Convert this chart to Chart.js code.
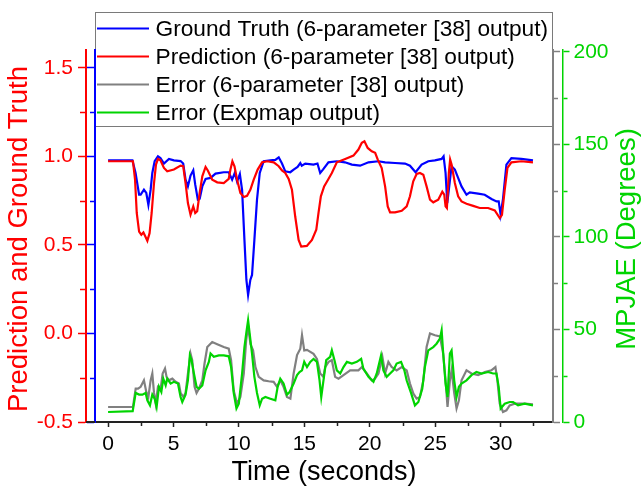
<!DOCTYPE html>
<html>
<head>
<meta charset="utf-8">
<script src="https://cdn.jsdelivr.net/npm/chart.js@4.4.1/dist/chart.umd.min.js"></script>
<style>
  html, body { margin: 0; padding: 0; background: #ffffff; }
  #wrap { position: relative; width: 641px; height: 487px; }
</style>
</head>
<body>
<div id="wrap"><canvas id="c" width="641" height="487"></canvas></div>
<script>
// ---------------- data ----------------
const seriesLabels = [
  'Ground Truth (6-parameter [38] output)',
  'Prediction (6-parameter [38] output)',
  'Error (6-parameter [38] output)',
  'Error (Expmap output)'
];
const axisTitles = { x: 'Time (seconds)', left: 'Prediction and Ground Truth', right: 'MPJAE (Degrees)' };

// [time (s), value] – left axis
const groundTruth = [[0,0.977],[1.86,0.977],[2.1,0.906],[2.37,0.783],[2.49,0.783],[2.74,0.811],[2.92,0.793],[3.08,0.726],[3.25,0.81],[3.38,0.906],[3.56,0.972],[3.81,1.0],[4.0,0.99],[4.27,0.959],[4.65,0.985],[5.03,0.977],[5.54,0.973],[5.74,0.959],[5.92,0.868],[6.1,0.83],[6.3,0.891],[6.51,0.921],[6.66,0.84],[6.86,0.755],[7.0,0.76],[7.2,0.83],[7.45,0.872],[7.83,0.878],[8.21,0.902],[8.84,0.91],[9.22,0.91],[9.48,0.868],[9.68,0.906],[9.86,0.857],[10.07,0.9],[10.24,0.811],[10.42,0.528],[10.57,0.302],[10.7,0.217],[10.87,0.302],[11.0,0.33],[11.18,0.528],[11.38,0.755],[11.59,0.906],[11.89,0.972],[12.4,0.977],[12.78,0.98],[13.04,0.994],[13.29,0.959],[13.54,0.915],[13.92,0.91],[14.18,0.925],[14.48,0.94],[14.69,0.962],[14.8,0.947],[15.07,0.959],[15.7,0.953],[16.0,0.959],[16.21,0.906],[16.42,0.925],[16.84,0.966],[17.48,0.972],[18.1,0.966],[18.63,0.953],[19.26,0.947],[19.9,0.966],[20.66,0.972],[21.17,0.966],[21.93,0.962],[22.69,0.959],[23.07,0.947],[23.5,0.91],[23.96,0.953],[24.47,0.972],[24.97,0.977],[25.49,0.985],[25.64,1.0],[25.79,0.906],[25.92,0.736],[26.07,0.83],[26.25,0.944],[26.5,0.925],[26.75,0.878],[27.01,0.83],[27.39,0.783],[27.64,0.796],[28.28,0.789],[28.78,0.783],[29.3,0.759],[29.68,0.745],[29.85,0.745],[30.0,0.67],[30.18,0.76],[30.44,0.953],[30.82,0.99],[31.58,0.985],[32.47,0.977]];

const prediction = [[0,0.972],[1.9,0.972],[2.06,0.868],[2.19,0.68],[2.37,0.575],[2.54,0.557],[2.7,0.57],[2.83,0.55],[3.0,0.523],[3.17,0.566],[3.33,0.68],[3.51,0.849],[3.66,0.953],[3.81,0.985],[4.0,0.977],[4.27,0.934],[4.52,0.915],[5.03,0.925],[5.54,0.947],[5.74,0.944],[5.92,0.849],[6.1,0.736],[6.3,0.67],[6.51,0.717],[6.66,0.68],[6.81,0.69],[7.0,0.793],[7.2,0.887],[7.45,0.94],[7.62,0.92],[7.96,0.868],[8.34,0.853],[8.84,0.849],[9.22,0.872],[9.35,0.925],[9.5,0.972],[9.66,0.944],[9.86,0.868],[10.11,0.793],[10.37,0.77],[10.62,0.777],[10.87,0.811],[11.13,0.868],[11.43,0.925],[11.77,0.966],[12.15,0.972],[12.66,0.966],[13.04,0.944],[13.29,0.92],[13.54,0.906],[13.8,0.872],[14.05,0.811],[14.3,0.66],[14.56,0.528],[14.76,0.49],[15.19,0.494],[15.58,0.528],[15.91,0.585],[16.08,0.68],[16.26,0.774],[16.51,0.83],[16.84,0.872],[17.1,0.906],[17.48,0.966],[18.12,0.985],[18.75,1.004],[19.13,1.038],[19.39,1.076],[19.59,1.085],[19.84,1.047],[20.15,1.028],[20.41,1.02],[20.61,0.981],[20.91,0.934],[21.17,0.83],[21.37,0.717],[21.55,0.683],[21.93,0.683],[22.44,0.692],[22.82,0.717],[23.07,0.774],[23.32,0.859],[23.58,0.9],[23.83,0.906],[24.09,0.896],[24.34,0.83],[24.6,0.755],[24.85,0.74],[25.23,0.755],[25.54,0.8],[25.69,0.783],[25.79,0.717],[25.89,0.708],[26.04,0.906],[26.14,0.981],[26.25,0.953],[26.5,0.849],[26.75,0.774],[27.01,0.745],[27.39,0.732],[27.9,0.72],[28.4,0.708],[29.04,0.708],[29.55,0.694],[29.93,0.651],[30.1,0.67],[30.31,0.811],[30.52,0.934],[30.82,0.966],[31.58,0.972],[32.47,0.966]];

// [time (s), degrees] – right axis
const errorSixParam = [[0,8.1],[1.9,8.1],[2.11,18],[2.29,18],[2.49,19],[2.74,22.5],[2.92,16.2],[3.08,13.5],[3.25,22.5],[3.38,26.2],[3.51,15.7],[3.64,9.9],[3.81,19],[4.02,18],[4.17,26.2],[4.35,28.9],[4.47,24.4],[4.65,22.5],[4.91,23.4],[5.16,21.7],[5.41,20.8],[5.54,15.7],[5.75,13.5],[5.92,15.7],[6.1,26.2],[6.3,37],[6.43,33.4],[6.61,19],[6.76,15.7],[6.94,18],[7.2,22.5],[7.37,31.6],[7.58,40.5],[7.96,43.2],[8.34,42],[8.84,40.5],[9.22,39.6],[9.4,33.4],[9.6,17],[9.86,9.9],[10.11,13.5],[10.37,26.2],[10.55,44],[10.7,52],[10.88,42],[11.08,38.7],[11.26,29.7],[11.51,24.4],[11.89,22.5],[12.27,22],[12.65,21.7],[12.91,19],[13.16,22.5],[13.41,19],[13.67,13.5],[13.93,12.6],[14.18,26.2],[14.44,36.2],[14.69,39.6],[14.82,46.9],[14.99,38.7],[15.2,39],[15.7,36.8],[15.96,34.1],[16.21,26.2],[16.46,24.4],[16.59,29.7],[16.85,32.5],[17.1,33.4],[17.35,24.4],[17.61,23.4],[17.99,25.3],[18.5,27.9],[19.13,27.9],[19.39,29.7],[19.77,26.2],[20.15,22.5],[20.4,23.4],[20.66,26.2],[20.96,35.2],[21.17,26.2],[21.42,32.5],[21.67,29.7],[22.05,27.9],[22.44,29.7],[22.82,27.9],[23.07,20.8],[23.33,15.3],[23.58,12.6],[23.83,13.5],[24.09,22.5],[24.34,40.5],[24.6,47.8],[24.98,46.9],[25.36,46.3],[25.61,36.8],[25.79,22.5],[25.94,8.1],[26.12,22.5],[26.25,27.9],[26.45,15.7],[26.63,7.3],[26.81,11.7],[27.01,22.5],[27.39,27.9],[27.77,26.2],[28.28,25.3],[28.79,27],[29.29,27.9],[29.6,29.7],[29.75,22.5],[29.93,9.9],[30.18,5.4],[30.44,6.3],[30.69,9],[31.07,9.9],[31.84,9.9],[32.47,9.5]];

const errorExpmap = [[0,5.4],[1.88,5.9],[2.11,15.7],[2.37,14.8],[2.62,14.8],[2.87,15.7],[3.0,11.7],[3.2,9],[3.38,14.8],[3.56,12.6],[3.71,8.1],[3.89,19],[4.07,16.2],[4.22,23.4],[4.4,19.8],[4.52,23.4],[4.78,20.8],[5.03,21.7],[5.34,20.8],[5.54,13.5],[5.67,10.8],[5.92,14.8],[6.1,22.5],[6.25,36],[6.38,33.4],[6.56,26.2],[6.76,19],[6.94,18],[7.2,19.8],[7.45,27.9],[7.7,32.5],[7.83,37],[8.08,35.2],[8.46,36],[8.84,36],[9.22,35.5],[9.4,29.7],[9.6,15.7],[9.81,7.3],[9.99,9.9],[10.24,26.2],[10.42,40.5],[10.57,48.6],[10.7,55],[10.82,47.8],[11.0,37],[11.18,24.4],[11.38,15.7],[11.59,9],[11.77,12.6],[12.02,13.5],[12.4,12.6],[12.78,11.7],[12.96,19],[13.16,23.4],[13.41,20.8],[13.67,14.8],[13.87,16.2],[14.18,20.8],[14.44,25.3],[14.63,27],[14.82,27.9],[14.99,32.5],[15.2,29.7],[15.45,32.5],[15.7,34.1],[15.96,32.5],[16.16,22.5],[16.29,13.5],[16.46,22.5],[16.67,33.4],[16.97,35.2],[17.1,38.7],[17.3,33.4],[17.48,27.9],[17.74,26.2],[17.99,29.7],[18.25,32.5],[18.63,31.6],[19.01,32.5],[19.34,34.1],[19.51,28.8],[19.9,24.4],[20.28,21.7],[20.53,26.2],[20.86,36],[21.04,27.9],[21.29,24.4],[21.55,26.2],[21.8,27.9],[22.05,31.6],[22.39,32.5],[22.64,27.9],[22.82,22.5],[23.15,15.7],[23.45,9],[23.71,10.8],[24.01,18],[24.21,29.7],[24.47,38.7],[24.85,40.5],[25.1,42.3],[25.36,45.1],[25.49,49.5],[25.61,37],[25.79,20.8],[25.94,13.5],[26.12,37],[26.25,38.7],[26.45,22.5],[26.63,13.5],[26.81,19],[27.01,20.8],[27.39,22.5],[27.77,25.3],[28.15,27],[28.53,26.2],[29.04,27],[29.42,26.2],[29.68,26.2],[29.85,19],[30.0,7.3],[30.31,9.9],[30.69,10.8],[30.95,10.8],[31.33,9],[31.84,9.9],[32.47,9]];

// axis ticks
const timeTicks = [0, 5, 10, 15, 20, 25, 30];
const timeMinorTicks = [2.5, 7.5, 12.5, 17.5, 22.5, 27.5, 32.5];
const leftTicks = [-0.5, 0.0, 0.5, 1.0, 1.5];
const leftMinorTicks = [-0.25, 0.25, 0.75, 1.25];
const rightTicks = [0, 50, 100, 150, 200];
const rightMinorTicks = [25, 75, 125, 175];

// ---------------- styling ----------------
const FONT = "'Liberation Sans', Arial, Helvetica, sans-serif";
const RED = '#ff0000', BLUE = '#0000ff', GRAY = '#808080', GREEN = '#00d400', DARK = '#222222';
Chart.defaults.font.family = FONT;

const setTicks = (vals) => (scale) => { scale.ticks = vals.map(v => ({ value: v })); };

// legend, minor ticks, side titles and extended bottom axis line
const extrasPlugin = {
  id: 'extras',
  beforeDraw(chart) {
    const ctx = chart.ctx;
    // legend box (drawn first so the axis lines sit on top of its edges)
    const L = { left: 95.5, top: 12.5, right: 552.5, bottom: 126.5 };
    ctx.save();
    ctx.fillStyle = '#ffffff';
    ctx.fillRect(L.left, L.top, L.right - L.left, L.bottom - L.top);
    ctx.strokeStyle = '#7a7a7a';
    ctx.lineWidth = 1;
    ctx.strokeRect(L.left, L.top, L.right - L.left, L.bottom - L.top);
    const colors = [BLUE, RED, GRAY, GREEN];
    ctx.font = '22.7px ' + FONT;
    ctx.textBaseline = 'middle';
    ctx.textAlign = 'left';
    seriesLabels.forEach((lab, i) => {
      const y = 28.5 + i * 28;
      ctx.strokeStyle = colors[i];
      ctx.lineWidth = 2;
      ctx.beginPath(); ctx.moveTo(97, y); ctx.lineTo(149, y); ctx.stroke();
      ctx.fillStyle = '#000000';
      ctx.fillText(lab, 155.5, y + 1);
    });
    ctx.restore();
  },
  afterDraw(chart) {
    const ctx = chart.ctx;
    const s = chart.scales;
    ctx.save();
    const minor = (scale, vals, len, color, side) => {
      ctx.strokeStyle = color; ctx.lineWidth = 1.5;
      vals.forEach(v => {
        const p = Math.round(scale.getPixelForValue(v)) + 0.5;
        ctx.beginPath();
        if (side === 'left') { ctx.moveTo(scale.right - 1, p); ctx.lineTo(scale.right - 1 - len, p); }
        else if (side === 'right') { ctx.moveTo(scale.left + 1, p); ctx.lineTo(scale.left + 1 + len, p); }
        else { ctx.moveTo(p, scale.top + 1); ctx.lineTo(p, scale.top + 1 + len); }
        ctx.stroke();
      });
    };
    minor(s.yRed, leftMinorTicks, 5, RED, 'left');
    minor(s.yBlue, leftMinorTicks, 4, BLUE, 'left');
    minor(s.yGray, rightMinorTicks, 4, GRAY, 'right');
    minor(s.yGreen, rightMinorTicks, 4, GREEN, 'right');
    minor(s.x, timeMinorTicks, 3, DARK, 'bottom');
    // bottom axis line continues left to the outer left axis
    ctx.strokeStyle = DARK; ctx.lineWidth = 2;
    ctx.beginPath(); ctx.moveTo(s.yRed.right, s.x.top); ctx.lineTo(s.x.left, s.x.top); ctx.stroke();

    const midY = (s.yRed.top + s.yRed.bottom) / 2 + 3;
    const sideTitle = (text, x, color) => {
      ctx.save();
      ctx.translate(x, midY);
      ctx.rotate(-Math.PI / 2);
      ctx.fillStyle = color;
      ctx.font = '27.5px ' + FONT;
      ctx.textAlign = 'center';
      ctx.textBaseline = 'middle';
      ctx.fillText(text, 0, 0);
      ctx.restore();
    };
    sideTitle(axisTitles.left, s.yRed.left + 19.5, RED);
    sideTitle(axisTitles.right, s.yGreen.right - 14, GREEN);
    ctx.restore();
  }
};

const toXY = (arr) => arr.map(p => ({ x: p[0], y: p[1] }));

new Chart(document.getElementById('c'), {
  type: 'line',
  data: {
    datasets: [
      { label: seriesLabels[3], data: toXY(errorExpmap), yAxisID: 'yGreen', borderColor: GREEN, order: 1 },
      { label: seriesLabels[2], data: toXY(errorSixParam), yAxisID: 'yGray', borderColor: GRAY, order: 2 },
      { label: seriesLabels[1], data: toXY(prediction), yAxisID: 'yRed', borderColor: RED, order: 3 },
      { label: seriesLabels[0], data: toXY(groundTruth), yAxisID: 'yRed', borderColor: BLUE, order: 4 }
    ]
  },
  options: {
    responsive: false,
    animation: false,
    devicePixelRatio: 1,
    layout: { padding: { top: 50, left: 0, right: 0, bottom: 0 } },
    elements: {
      point: { radius: 0, hoverRadius: 0 },
      line: { borderWidth: 2.2, tension: 0, fill: false }
    },
    plugins: { legend: { display: false }, tooltip: { enabled: false } },
    scales: {
      x: {
        type: 'linear', position: 'bottom', min: -1, max: 34,
        afterBuildTicks: setTicks(timeTicks),
        afterFit: (s) => { s.height = 65; },
        border: { color: DARK, width: 2 },
        grid: { drawOnChartArea: false, drawTicks: true, tickLength: 5, tickColor: DARK, tickWidth: 1.5 },
        ticks: { color: '#000', font: { size: 21 }, padding: 5, maxRotation: 0, autoSkip: false },
        title: { display: true, text: axisTitles.x, color: '#000', font: { size: 27, lineHeight: 1 }, padding: { top: 0, bottom: 1 } }
      },
      yRed: {
        type: 'linear', position: 'left', weight: 2, min: -0.5, max: 1.6,
        afterBuildTicks: setTicks(leftTicks),
        afterFit: (s) => { s.width = 86; },
        border: { color: RED, width: 2 },
        grid: { drawOnChartArea: false, tickLength: 8, tickColor: RED, tickWidth: 1.5 },
        ticks: { color: RED, font: { size: 21 }, padding: 5, callback: (v) => Number(v).toFixed(1) }
      },
      yBlue: {
        type: 'linear', position: 'left', weight: 1, min: -0.5, max: 1.6,
        afterBuildTicks: setTicks(leftTicks),
        afterFit: (s) => { s.width = 9; },
        border: { color: BLUE, width: 2 },
        grid: { drawOnChartArea: false, tickLength: 8, tickColor: BLUE, tickWidth: 1.5 },
        ticks: { display: false }
      },
      yGray: {
        type: 'linear', position: 'right', weight: 1, min: 0, max: 201,
        afterBuildTicks: setTicks(rightTicks),
        afterFit: (s) => { s.width = 9.5; },
        border: { color: GRAY, width: 2 },
        grid: { drawOnChartArea: false, tickLength: 7, tickColor: GRAY, tickWidth: 1.5 },
        ticks: { display: false }
      },
      yGreen: {
        type: 'linear', position: 'right', weight: 2, min: 0, max: 201,
        afterBuildTicks: setTicks(rightTicks),
        afterFit: (s) => { s.width = 78.5; },
        border: { color: GREEN, width: 1.5 },
        grid: { drawOnChartArea: false, tickLength: 7, tickColor: GREEN, tickWidth: 1.5 },
        ticks: { color: GREEN, font: { size: 21 }, padding: 4 }
      }
    }
  },
  plugins: [extrasPlugin]
});
</script>
</body>
</html>
